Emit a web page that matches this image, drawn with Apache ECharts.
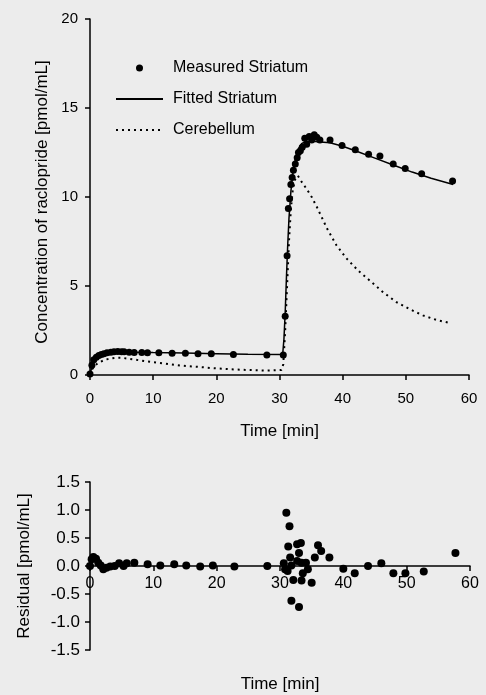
<!DOCTYPE html>
<html><head><meta charset="utf-8">
<script src="https://cdn.jsdelivr.net/npm/echarts@6/dist/echarts.min.js"></script>
<style>html,body{margin:0;padding:0;background:#ececec;}#c{width:486px;height:695px;}</style>
</head><body><div id="c"></div>
<script>
// Measured striatum
const measT = [0, 0.3, 0.6, 1.0, 1.4, 1.8, 2.2, 2.7, 3.3, 3.8, 4.4, 5.0, 5.4, 6.2, 7.0, 8.2, 9.1, 10.9, 13.0, 15.1, 17.1, 19.2, 22.7, 28.0, 30.6, 30.9, 31.2, 31.4, 31.6, 31.8, 32.0, 32.2, 32.5, 32.8, 33.0, 33.3, 33.6, 34.0, 34.3, 34.7, 35.1, 35.5, 35.9, 36.4, 38.0, 39.9, 42.0, 44.1, 45.9, 48.0, 49.9, 52.5, 57.4];
const measV = [0.05, 0.55, 0.85, 1.0, 1.1, 1.15, 1.2, 1.25, 1.28, 1.3, 1.32, 1.3, 1.3, 1.28, 1.27, 1.26, 1.25, 1.25, 1.22, 1.22, 1.2, 1.2, 1.15, 1.13, 1.13, 3.3, 6.7, 9.35, 9.9, 10.7, 11.1, 11.5, 11.85, 12.2, 12.5, 12.6, 12.8, 13.3, 12.96, 13.4, 13.2, 13.5, 13.35, 13.2, 13.2, 12.9, 12.65, 12.4, 12.3, 11.85, 11.6, 11.3, 10.9];
// Fitted striatum
const fitT = [0, 0.3, 0.6, 1, 1.5, 2, 3, 4, 5, 7, 10, 15, 20, 25, 30.5, 30.7, 30.9, 31.1, 31.3, 31.5, 31.8, 32.1, 32.5, 33, 33.5, 34, 35, 36, 38, 40, 42, 45, 48, 51, 54, 57.5];
const fitV = [0, 0.5, 0.8, 1.0, 1.12, 1.2, 1.27, 1.3, 1.3, 1.28, 1.26, 1.23, 1.2, 1.17, 1.15, 2.0, 3.5, 5.5, 7.3, 8.8, 10.3, 11.3, 12.1, 12.7, 13.0, 13.1, 13.15, 13.1, 13.05, 12.85, 12.6, 12.2, 11.8, 11.4, 11.05, 10.7];
// Cerebellum
const cerT = [0, 0.3, 0.7, 1.2, 1.7, 2.5, 3.3, 4.2, 5, 6, 7, 9, 11.7, 14.4, 17, 19.6, 22.3, 25, 28, 30.3, 30.6, 30.9, 31.2, 31.5, 31.8, 32.1, 32.5, 32.9, 33.6, 34.3, 35.1, 35.9, 36.7, 37.5, 39, 40.6, 42.5, 44.3, 46.4, 48.5, 50.6, 52.7, 54.8, 57.2];
const cerV = [0, 0.3, 0.5, 0.65, 0.75, 0.87, 0.93, 0.97, 0.97, 0.92, 0.87, 0.76, 0.65, 0.53, 0.46, 0.38, 0.32, 0.28, 0.25, 0.28, 0.6, 2.5, 5.0, 7.5, 9.3, 10.4, 11.0, 11.2, 10.8, 10.45, 10.0, 9.45, 8.85, 8.25, 7.3, 6.55, 5.85, 5.3, 4.65, 4.1, 3.7, 3.35, 3.1, 2.9];
// Residuals
const resT = [0, 0.26, 0.53, 0.95, 1.3, 1.7, 2.1, 2.6, 3.2, 3.9, 4.6, 5.3, 5.8, 7.0, 9.1, 11.1, 13.3, 15.2, 17.4, 19.4, 22.8, 28.0, 30.6, 30.8, 31.0, 31.2, 31.3, 31.5, 31.6, 31.8, 31.8, 32.1, 32.7, 32.7, 33.0, 33.0, 33.3, 33.4, 33.4, 33.6, 34.1, 34.4, 35.0, 35.5, 36.0, 36.5, 37.8, 40.0, 41.8, 43.9, 46.0, 47.9, 49.8, 52.7, 57.7];
const resV = [0.0, 0.12, 0.16, 0.13, 0.06, 0.01, -0.06, -0.03, -0.01, 0.0, 0.05, 0.0, 0.05, 0.06, 0.03, 0.01, 0.03, 0.01, -0.01, 0.01, -0.01, 0.0, 0.05, -0.06, 0.95, -0.09, 0.35, 0.71, 0.15, 0.01, -0.62, -0.25, 0.39, 0.09, 0.23, -0.73, 0.41, 0.06, -0.26, -0.13, 0.06, -0.06, -0.3, 0.15, 0.37, 0.27, 0.15, -0.05, -0.13, 0.0, 0.05, -0.13, -0.13, -0.1, 0.23];
const xTicks = [0, 10, 20, 30, 40, 50, 60];
const topYTicks = [0, 5, 10, 15, 20];
const resYTicks = [-1.5, -1.0, -0.5, 0.0, 0.5, 1.0, 1.5];

const zip = (a, b) => a.map((v, i) => [v, b[i]]);
const FONT = 'Liberation Sans';
const axisCommon = {
  axisLine: {onZero: false, lineStyle: {color: '#000', width: 1.5}},
  axisTick: {inside: false, length: 5, lineStyle: {color: '#000', width: 1.5}},
  splitLine: {show: false},
  nameTextStyle: {color: '#000', fontSize: 17, fontFamily: FONT}
};

const chart = echarts.init(document.getElementById('c'), null, {renderer: 'canvas'});
chart.setOption({
  backgroundColor: '#ececec',
  animation: false,
  textStyle: {fontFamily: FONT},
  grid: [
    {left: 90, right: 17, top: 19, height: 356, outerBoundsMode: 'none', containLabel: false},
    {left: 90, right: 16, top: 482, height: 168, outerBoundsMode: 'none', containLabel: false}
  ],
  legend: {
    data: [
      {name: 'Measured Striatum', icon: 'circle'},
      {name: 'Fitted Striatum', itemStyle: {opacity: 0}},
      {name: 'Cerebellum', itemStyle: {opacity: 0}}
    ],
    orient: 'vertical', left: 110, top: 55,
    itemWidth: 47, itemHeight: 7, itemGap: 15,
    textStyle: {color: '#000', fontSize: 16, fontFamily: FONT, padding: [0, 0, 0, 5]}
  },
  xAxis: [
    Object.assign({}, axisCommon, {gridIndex: 0, type: 'value', min: xTicks[0], max: xTicks[xTicks.length - 1], interval: 10,
      axisLabel: {color: '#000', fontSize: 15, fontFamily: FONT, margin: 16},
      name: 'Time [min]', nameLocation: 'middle', nameGap: 48}),
    Object.assign({}, axisCommon, {gridIndex: 1, type: 'value', min: xTicks[0], max: xTicks[xTicks.length - 1], interval: 10,
      offset: -84,
      axisLabel: {color: '#000', fontSize: 16, fontFamily: FONT, margin: 10},
      name: 'Time [min]', nameLocation: 'middle', nameGap: 110})
  ],
  yAxis: [
    Object.assign({}, axisCommon, {gridIndex: 0, type: 'value', min: topYTicks[0], max: topYTicks[topYTicks.length - 1], interval: 5,
      axisLabel: {color: '#000', fontSize: 15, fontFamily: FONT, margin: 12},
      nameTextStyle: {color: '#000', fontSize: 17, fontFamily: FONT, padding: [0, 10, 0, 0]},
      name: 'Concentration of raclopride [pmol/mL]', nameLocation: 'middle', nameGap: 39}),
    Object.assign({}, axisCommon, {gridIndex: 1, type: 'value', min: resYTicks[0], max: resYTicks[resYTicks.length - 1], interval: 0.5,
      name: 'Residual [pmol/mL]', nameLocation: 'middle', nameGap: 57,
      axisLabel: {color: '#000', fontSize: 17, fontFamily: FONT, margin: 10, formatter: v => v.toFixed(1)}})
  ],
  series: [
    {name: 'Fitted Striatum', type: 'line', xAxisIndex: 0, yAxisIndex: 0, data: zip(fitT, fitV), symbol: 'none',
      lineStyle: {color: '#000', width: 1.5}, itemStyle: {color: '#000'}, z: 3},
    {name: 'Cerebellum', type: 'line', xAxisIndex: 0, yAxisIndex: 0, data: zip(cerT, cerV), symbol: 'none',
      lineStyle: {color: '#000', width: 2, type: [2, 4]}, itemStyle: {color: '#000'}, z: 2},
    {name: 'Measured Striatum', type: 'scatter', xAxisIndex: 0, yAxisIndex: 0, data: zip(measT, measV), symbol: 'circle', symbolSize: 7,
      itemStyle: {color: '#000', opacity: 1}, z: 4},
    {name: 'Residual', type: 'scatter', xAxisIndex: 1, yAxisIndex: 1, data: zip(resT, resV), symbol: 'circle', symbolSize: 8,
      itemStyle: {color: '#000', opacity: 1}, z: 4}
  ]
});
</script></body></html>
